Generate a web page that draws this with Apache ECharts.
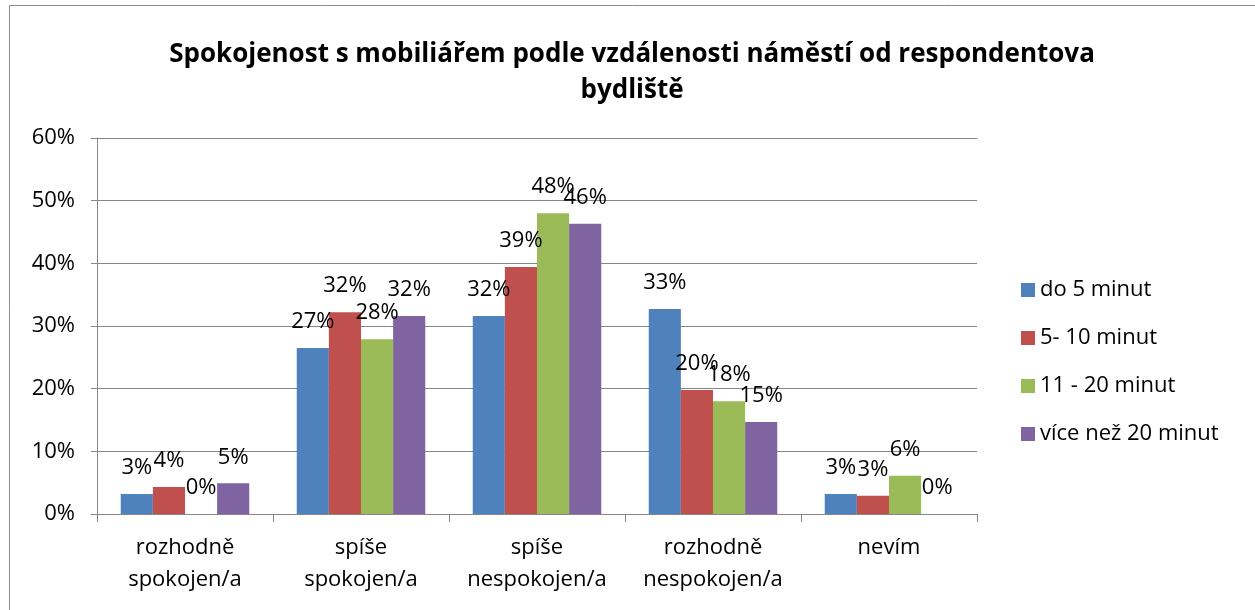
<!DOCTYPE html>
<html style="height: 100%">
<head>
  <meta charset="utf-8" />
  <title>Spokojenost s mobiliářem</title>
  <script src="https://cdn.jsdelivr.net/npm/echarts@6/dist/echarts.min.js"></script>
</head>
<body style="height: 100%; margin: 0; overflow: hidden; background: #fff">
  <div id="container" style="width: 1255px; height: 610px"></div>
  <script>
    // data (fractions)
    var categories = ["rozhodně\nspokojen/a", "spíše\nspokojen/a", "spíše\nnespokojen/a", "rozhodně\nnespokojen/a", "nevím"];
    var seriesNames = ["do 5 minut", "5- 10 minut", "11 - 20 minut", "více než 20 minut"];
    var do5 = [0.032, 0.265, 0.316, 0.327, 0.032];
    var do10 = [0.043, 0.322, 0.394, 0.198, 0.029];
    var do20 = [0.0, 0.279, 0.480, 0.180, 0.061];
    var nad20 = [0.049, 0.316, 0.463, 0.147, 0.0];
    var colors = ["#4f81bd", "#c0504d", "#9bbb59", "#8064a2"];

    var font = "'Open Sans', sans-serif";
    var dom = document.getElementById("container");
    var myChart = echarts.init(dom, null, { renderer: "canvas" });

    var mkSeries = (name, data, i) => ({
      name: name,
      type: "bar",
      data: data,
      itemStyle: { color: colors[i] },
      barGap: "0%",
      barCategoryGap: "27%",
      label: {
        show: true,
        position: "top",
        distance: 15,
        color: "#000",
        fontSize: 22,
        fontFamily: font,
        formatter: p => Math.round(p.value * 100) + "%"
      }
    });

    var option = {
      animation: false,
      title: {
        text: "Spokojenost s mobiliářem podle vzdálenosti náměstí od respondentova\nbydliště",
        left: 627,
        top: 32,
        textAlign: "center",
        textStyle: { fontFamily: font, fontSize: 26, fontWeight: "bold", color: "#000", lineHeight: 36 }
      },
      graphic: [{
        type: "rect",
        shape: { x: 9.5, y: 5.5, width: 1250, height: 620 },
        style: { fill: "none", stroke: "#8c8c8c", lineWidth: 1 }
      }],
      legend: {
        orient: "vertical",
        left: 1016,
        top: 274,
        itemWidth: 14,
        itemHeight: 14,
        itemGap: 26,
        icon: "rect",
        textStyle: { fontFamily: font, fontSize: 22, color: "#000" },
        data: seriesNames
      },
      grid: { left: 97, right: 278, top: 138, bottom: 96 },
      xAxis: {
        type: "category",
        data: categories,
        axisLine: { lineStyle: { color: "#868686" } },
        axisTick: { show: true, length: 8, lineStyle: { color: "#868686" } },
        axisLabel: { interval: 0, hideOverlap: false, fontFamily: font, fontSize: 22, color: "#000", lineHeight: 32, margin: 18 }
      },
      yAxis: {
        type: "value",
        min: 0,
        max: 0.6,
        interval: 0.1,
        axisLine: { show: true, lineStyle: { color: "#868686" } },
        axisTick: { show: true, length: 6, inside: false, lineStyle: { color: "#868686" } },
        splitLine: { lineStyle: { color: "#868686" } },
        axisLabel: {
          fontFamily: font, fontSize: 22, color: "#000", margin: 22,
          formatter: v => Math.round(v * 100) + "%"
        }
      },
      series: [
        mkSeries(seriesNames[0], do5, 0),
        mkSeries(seriesNames[1], do10, 1),
        mkSeries(seriesNames[2], do20, 2),
        mkSeries(seriesNames[3], nad20, 3)
      ]
    };
    myChart.setOption(option);
  </script>
</body>
</html>
